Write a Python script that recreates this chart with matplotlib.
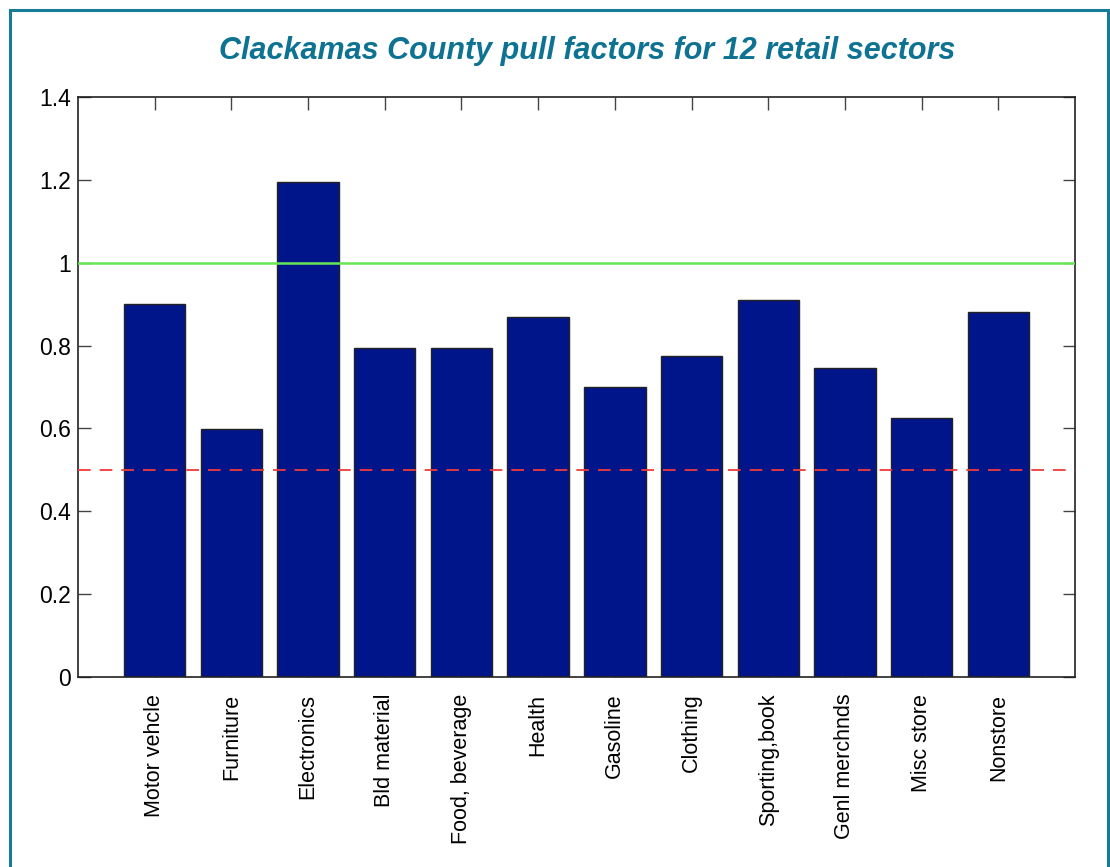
import matplotlib
matplotlib.use("Agg")
import matplotlib.pyplot as plt
from matplotlib.patches import Rectangle

sectors = ["Motor vehcle", "Furniture", "Electronics", "Bld material",
           "Food, beverage", "Health", "Gasoline", "Clothing",
           "Sporting,book", "Genl merchnds", "Misc store", "Nonstore"]
pull = [0.90, 0.598, 1.195, 0.794, 0.793, 0.868, 0.70, 0.775,
        0.91, 0.746, 0.625, 0.88]
yticks = [0, 0.2, 0.4, 0.6, 0.8, 1, 1.2, 1.4]
ytick_labels = ["0", "0.2", "0.4", "0.6", "0.8", "1", "1.2", "1.4"]

fig = plt.figure(figsize=(11.1, 8.67), dpi=100)
# teal frame around the figure
fig.patches.append(Rectangle((10 / 1110, -0.05), 1098 / 1110, 1.05 - 10 / 867,
                             transform=fig.transFigure, fill=False,
                             edgecolor="#167a98", linewidth=2.2))

ax = fig.add_axes([78 / 1110, 1 - 677 / 867, 997 / 1110, 580 / 867])
x = list(range(1, len(sectors) + 1))
ax.bar(x, pull, width=0.8, color="#00158a", edgecolor="#222222", linewidth=1.0, zorder=2)
ax.axhline(1.0, color="#66e655", linewidth=1.8, zorder=3)
ax.axhline(0.5, color="#f03a3a", linewidth=1.3, linestyle=(0, (7, 5)), zorder=3)

ax.set_xlim(0, 13)
ax.set_ylim(0, 1.4)
ax.set_xticks(x)
ax.set_xticklabels(sectors, rotation=90, fontsize=15.5, family="Liberation Sans")
ax.set_yticks(yticks)
ax.set_yticklabels(ytick_labels, fontsize=16.5, family="Liberation Sans")
ax.tick_params(direction="in", length=9, width=1, top=True, right=True,
               color="#444444", pad=5)
ax.tick_params(axis="x", pad=12)
for s in ax.spines.values():
    s.set_linewidth(1.2)
    s.set_color("#222222")

fig.text(587 / 1110, 1 - 51 / 867, "Clackamas County pull factors for 12 retail sectors",
         ha="center", va="center", fontsize=22, fontweight="bold", fontstyle="italic",
         color="#0e7392", family=["Liberation Sans", "DejaVu Sans"])

fig.savefig("out.png", dpi=100)
